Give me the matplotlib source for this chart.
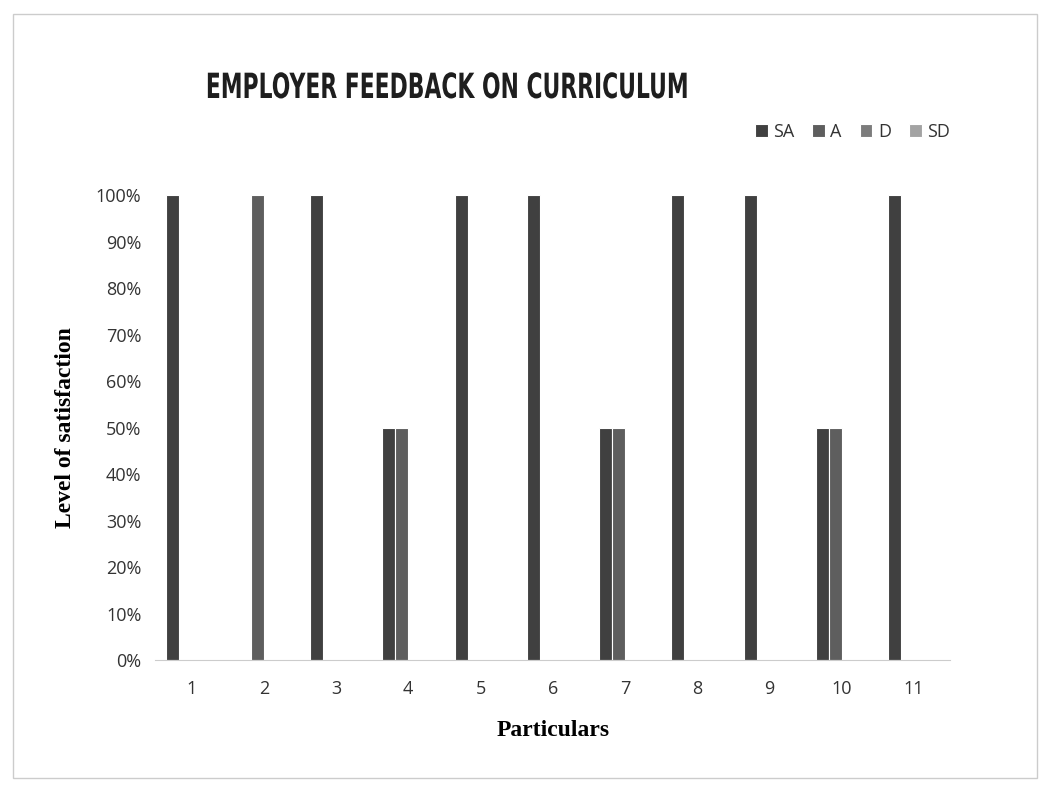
import matplotlib
matplotlib.use("Agg")
import matplotlib.pyplot as plt
import numpy as np
from matplotlib.patches import Rectangle
from matplotlib.patheffects import AbstractPathEffect
from matplotlib.transforms import Affine2D

categories = ["1", "2", "3", "4", "5", "6", "7", "8", "9", "10", "11"]
series_names = ["SA", "A", "D", "SD"]
SA = [1.00, 0.00, 1.00, 0.50, 1.00, 1.00, 0.50, 1.00, 1.00, 0.50, 1.00]
A  = [0.00, 1.00, 0.00, 0.50, 0.00, 0.00, 0.50, 0.00, 0.00, 0.50, 0.00]
D  = [0.00] * 11
SD = [0.00] * 11
colors = ["#404040", "#5e5e5e", "#7c7c7c", "#a3a3a3"]


class HScale(AbstractPathEffect):
    """Squeeze text horizontally about a fixed x (in figure fraction)."""
    def __init__(self, sx, fx, fig):
        super().__init__()
        self.sx = sx
        self.fx = fx
        self.fig = fig

    def draw_path(self, renderer, gc, tpath, affine, rgbFace=None):
        cx = self.fx * self.fig.bbox.width
        aff = affine + Affine2D().translate(-cx, 0).scale(self.sx, 1).translate(cx, 0)
        renderer.draw_path(gc, tpath, aff, rgbFace)


fig = plt.figure(figsize=(10.5, 7.87), dpi=100)
ax = fig.add_axes([0.148, 0.161, 0.757, 0.591])

x = np.arange(1, len(categories) + 1)
w = 0.18
for i, (vals, name, c) in enumerate(zip([SA, A, D, SD], series_names, colors)):
    ax.bar(x + (i - 1.5) * w, vals, width=w, color=c, label=name,
           edgecolor="white", linewidth=0.8)

ax.set_xlim(0.5, 11.5)
ax.set_ylim(0, 1.0)
ax.set_yticks(np.arange(0, 1.01, 0.1))
ax.set_yticklabels([f"{int(round(v*100))}%" for v in np.arange(0, 1.01, 0.1)],
                   fontsize=13, family="Open Sans", color="#333333")
ax.set_xticks(x)
ax.set_xticklabels(categories, fontsize=13, family="Open Sans", color="#333333")
ax.tick_params(axis="both", length=0, pad=10)
ax.tick_params(axis="x", pad=14)
for s in ["top", "right", "left"]:
    ax.spines[s].set_visible(False)
ax.spines["bottom"].set_color("#cccccc")

ax.set_ylabel("Level of satisfaction", fontsize=17, family="Liberation Serif",
              fontweight="bold", labelpad=14)
ax.set_xlabel("Particulars", fontsize=17, family="Liberation Serif",
              fontweight="bold", labelpad=16)

title_x = 448 / 1050
fig.text(title_x, 1 - 88 / 787, "EMPLOYER FEEDBACK ON CURRICULUM", fontsize=25,
         family="DejaVu Sans", fontweight="bold",
         ha="center", va="center", color="#1e1e1e",
         path_effects=[HScale(0.63, title_x, fig)])

leg = ax.legend(loc="upper right", bbox_to_anchor=(1.02, 1.19), ncol=4,
                frameon=False, handlelength=0.7, handleheight=0.7,
                handletextpad=0.3, columnspacing=1.0,
                prop={"family": "Open Sans", "size": 13})
for t in leg.get_texts():
    t.set_color("#333333")

fig.patches.append(Rectangle((0.012, 0.012), 0.976, 0.97, transform=fig.transFigure,
                             fill=False, edgecolor="#cccccc", linewidth=1))

fig.savefig("out.png", dpi=100)
